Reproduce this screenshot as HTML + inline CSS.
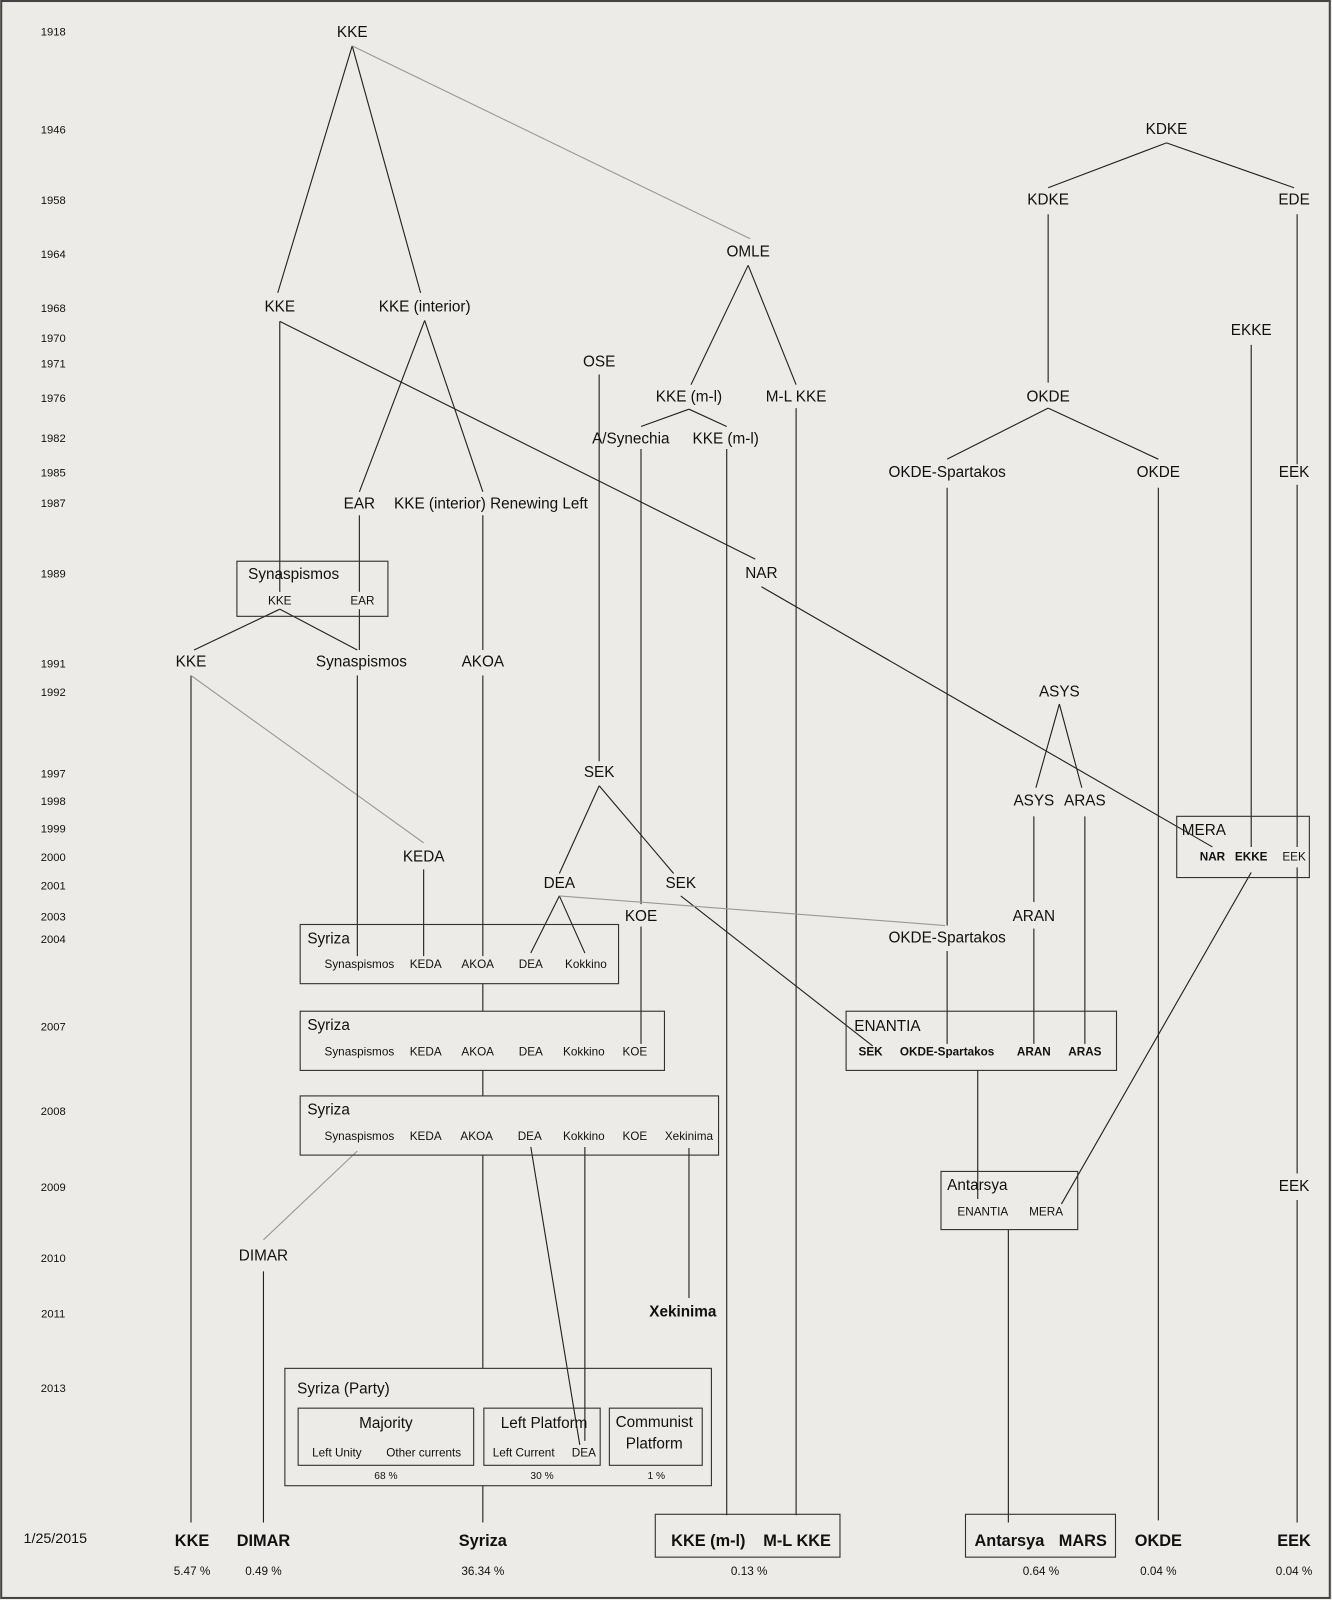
<!DOCTYPE html>
<html><head><meta charset="utf-8"><style>
html,body{margin:0;padding:0;background:#ecebe8;}
svg{display:block}
text{font-family:"Liberation Sans",sans-serif;fill:#111;dominant-baseline:central;text-anchor:middle}
.y{font-size:11px}
.m{font-size:15px}
.s{font-size:11.5px}
.b{font-weight:bold}
.l{text-anchor:start}
line{stroke:#222;stroke-width:1.1}
.g{stroke:#999}
rect{fill:none;stroke:#333;stroke-width:1.1}
</style></head><body>
<svg width="1332" height="1600" viewBox="0 0 1305 1568" xmlns="http://www.w3.org/2000/svg">
<rect x="1" y="1" width="1302" height="1565" style="stroke:#444;stroke-width:2"/>
<!-- years -->
<g class="y">
<text x="52" y="32" class="y">1918</text><text x="52" y="128" class="y">1946</text><text x="52" y="197" class="y">1958</text>
<text x="52" y="250" class="y">1964</text><text x="52" y="303" class="y">1968</text><text x="52" y="332" class="y">1970</text>
<text x="52" y="357" class="y">1971</text><text x="52" y="391" class="y">1976</text><text x="52" y="430" class="y">1982</text>
<text x="52" y="464" class="y">1985</text><text x="52" y="494" class="y">1987</text><text x="52" y="563" class="y">1989</text>
<text x="52" y="651" class="y">1991</text><text x="52" y="679" class="y">1992</text><text x="52" y="759" class="y">1997</text>
<text x="52" y="786" class="y">1998</text><text x="52" y="813" class="y">1999</text><text x="52" y="841" class="y">2000</text>
<text x="52" y="869" class="y">2001</text><text x="52" y="899" class="y">2003</text><text x="52" y="921" class="y">2004</text>
<text x="52" y="1007" class="y">2007</text><text x="52" y="1090" class="y">2008</text><text x="52" y="1164" class="y">2009</text>
<text x="52" y="1234" class="y">2010</text><text x="52" y="1288" class="y">2011</text><text x="52" y="1361" class="y">2013</text>
<text x="54" y="1508" style="font-size:14px">1/25/2015</text>
</g>
<!-- lines -->
<line x1="345" y1="45" x2="272" y2="287"/><line x1="345" y1="45" x2="412" y2="287"/>
<line class="g" x1="345" y1="45" x2="735" y2="234"/>
<line x1="1143" y1="140" x2="1027" y2="184"/><line x1="1143" y1="140" x2="1268" y2="184"/>
<line x1="1027" y1="210" x2="1027" y2="375"/>
<line x1="1271" y1="210" x2="1271" y2="455"/><line x1="1271" y1="475" x2="1271" y2="830"/>
<line x1="1271" y1="850" x2="1271" y2="1150"/><line x1="1271" y1="1176" x2="1271" y2="1492"/>
<line x1="1226" y1="338" x2="1226" y2="830"/>
<line x1="733" y1="260" x2="677" y2="377"/><line x1="733" y1="260" x2="780" y2="377"/>
<line x1="780" y1="400" x2="780" y2="1485"/>
<line x1="675" y1="401" x2="628" y2="418"/><line x1="675" y1="401" x2="712" y2="418"/>
<line x1="628" y1="440" x2="628" y2="886"/><line x1="628" y1="908" x2="628" y2="1023"/>
<line x1="712" y1="440" x2="712" y2="1485"/>
<line x1="587" y1="367" x2="587" y2="746"/>
<line x1="587" y1="770" x2="548" y2="856"/><line x1="587" y1="770" x2="660" y2="856"/>
<line x1="667" y1="878" x2="855" y2="1025"/>
<line x1="548" y1="878" x2="520" y2="934"/><line x1="548" y1="878" x2="573" y2="934"/>
<line class="g" x1="548" y1="878" x2="926" y2="907"/>
<line x1="274" y1="315" x2="274" y2="580"/>
<line x1="274" y1="315" x2="740" y2="548"/>
<line x1="746" y1="575" x2="1188" y2="830"/>
<line x1="416" y1="314" x2="352" y2="482"/><line x1="416" y1="314" x2="473" y2="482"/>
<line x1="352" y1="505" x2="352" y2="580"/><line x1="473" y1="505" x2="473" y2="637"/>
<line x1="274" y1="597" x2="190" y2="637"/><line x1="274" y1="597" x2="350" y2="637"/>
<line x1="352" y1="597" x2="352" y2="637"/>
<line x1="187" y1="662" x2="187" y2="1492"/>
<line class="g" x1="187" y1="662" x2="415" y2="826"/>
<line x1="415" y1="852" x2="415" y2="937"/>
<line x1="350" y1="662" x2="350" y2="937"/><line x1="473" y1="662" x2="473" y2="937"/>
<line x1="1038" y1="690" x2="1015" y2="772"/><line x1="1038" y1="690" x2="1060" y2="772"/>
<line x1="1013" y1="800" x2="1013" y2="884"/><line x1="1013" y1="910" x2="1013" y2="1023"/>
<line x1="1063" y1="800" x2="1063" y2="1023"/>
<line x1="1027" y1="400" x2="928" y2="450"/><line x1="1027" y1="400" x2="1135" y2="450"/>
<line x1="1135" y1="478" x2="1135" y2="1490"/>
<line x1="928" y1="478" x2="928" y2="907"/><line x1="928" y1="932" x2="928" y2="1023"/>
<line x1="1226" y1="855" x2="1040" y2="1180"/>
<line x1="473" y1="964" x2="473" y2="991"/><line x1="473" y1="1049" x2="473" y2="1074"/>
<line class="g" x1="350" y1="1128" x2="258" y2="1215"/>
<line x1="258" y1="1246" x2="258" y2="1492"/>
<line x1="473" y1="1132" x2="473" y2="1341"/>
<line x1="520" y1="1124" x2="568" y2="1416"/><line x1="573" y1="1124" x2="573" y2="1412"/>
<line x1="675" y1="1125" x2="675" y2="1272"/>
<line x1="958" y1="1049" x2="958" y2="1175"/>
<line x1="988" y1="1205" x2="988" y2="1492"/>
<line x1="473" y1="1456" x2="473" y2="1492"/>
<!-- boxes -->
<rect x="232" y="550" width="148" height="54"/>
<rect x="1153" y="800" width="130" height="60"/>
<rect x="294" y="906" width="312" height="58"/>
<rect x="294" y="991" width="357" height="58"/>
<rect x="294" y="1074" width="410" height="58"/>
<rect x="829" y="991" width="265" height="58"/>
<rect x="922" y="1148" width="134" height="57"/>
<rect x="279" y="1341" width="418" height="115"/>
<rect x="292" y="1380" width="172" height="56"/>
<rect x="474" y="1380" width="114" height="56"/>
<rect x="597" y="1380" width="91" height="56"/>
<rect x="642" y="1484" width="181" height="42"/>
<rect x="946" y="1484" width="147" height="42"/>
<!-- labels -->
<g class="m">
<text x="345" y="32" class="m">KKE</text><text x="1143" y="127" class="m">KDKE</text>
<text x="1027" y="196" class="m">KDKE</text><text x="1268" y="196" class="m">EDE</text>
<text x="733" y="247" class="m">OMLE</text>
<text x="274" y="301" class="m">KKE</text><text x="416" y="301" class="m">KKE (interior)</text>
<text x="1226" y="324" class="m">EKKE</text><text x="587" y="355" class="m">OSE</text>
<text x="675" y="389" class="m">KKE (m-l)</text><text x="780" y="389" class="m">M-L KKE</text>
<text x="1027" y="389" class="m">OKDE</text>
<text x="618" y="430" class="m">A/Synechia</text><text x="711" y="430" class="m">KKE (m-l)</text>
<text x="928" y="463" class="m">OKDE-Spartakos</text><text x="1135" y="463" class="m">OKDE</text><text x="1268" y="463" class="m">EEK</text>
<text x="352" y="494" class="m">EAR</text><text x="481" y="494" class="m">KKE (interior) Renewing Left</text>
<text x="746" y="562" class="m">NAR</text>
<text x="243" y="563" class="m l">Synaspismos</text>
<text x="187" y="649" class="m">KKE</text><text x="354" y="649" class="m">Synaspismos</text><text x="473" y="649" class="m">AKOA</text>
<text x="1038" y="678" class="m">ASYS</text>
<text x="587" y="757" class="m">SEK</text>
<text x="1013" y="785" class="m">ASYS</text><text x="1063" y="785" class="m">ARAS</text>
<text x="1158" y="814" class="m l">MERA</text>
<text x="415" y="840" class="m">KEDA</text>
<text x="548" y="866" class="m">DEA</text><text x="667" y="866" class="m">SEK</text>
<text x="628" y="898" class="m">KOE</text><text x="1013" y="898" class="m">ARAN</text>
<text x="928" y="919" class="m">OKDE-Spartakos</text>
<text x="301" y="920" class="m l">Syriza</text>
<text x="301" y="1005" class="m l">Syriza</text>
<text x="837" y="1006" class="m l">ENANTIA</text>
<text x="301" y="1088" class="m l">Syriza</text>
<text x="928" y="1162" class="m l">Antarsya</text>
<text x="1268" y="1163" class="m">EEK</text>
<text x="258" y="1231" class="m">DIMAR</text>
<text x="669" y="1286" class="m b">Xekinima</text>
<text x="291" y="1361" class="m l">Syriza (Party)</text>
<text x="378" y="1395" class="m">Majority</text><text x="533" y="1395" class="m">Left Platform</text>
<text x="641" y="1394" class="m">Communist</text><text x="641" y="1415" class="m">Platform</text>
</g>
<g class="b" style="font-size:16px">
<text x="188" y="1510">KKE</text><text x="258" y="1510">DIMAR</text><text x="473" y="1510">Syriza</text>
<text x="694" y="1510">KKE (m-l)</text><text x="781" y="1510">M-L KKE</text>
<text x="989" y="1510">Antarsya</text><text x="1061" y="1510">MARS</text>
<text x="1135" y="1510">OKDE</text><text x="1268" y="1510">EEK</text>
</g>
<g class="s">
<text x="274" y="589">KKE</text><text x="355" y="589">EAR</text>
<text x="1188" y="840" class="b">NAR</text><text x="1226" y="840" class="b">EKKE</text><text x="1268" y="840">EEK</text>
<text x="352" y="945">Synaspismos</text><text x="417" y="945">KEDA</text><text x="468" y="945">AKOA</text><text x="520" y="945">DEA</text><text x="574" y="945">Kokkino</text>
<text x="352" y="1031">Synaspismos</text><text x="417" y="1031">KEDA</text><text x="468" y="1031">AKOA</text><text x="520" y="1031">DEA</text><text x="572" y="1031">Kokkino</text><text x="622" y="1031">KOE</text>
<text x="352" y="1114">Synaspismos</text><text x="417" y="1114">KEDA</text><text x="467" y="1114">AKOA</text><text x="519" y="1114">DEA</text><text x="572" y="1114">Kokkino</text><text x="622" y="1114">KOE</text><text x="675" y="1114">Xekinima</text>
<text x="853" y="1031" class="b">SEK</text><text x="928" y="1031" class="b">OKDE-Spartakos</text><text x="1013" y="1031" class="b">ARAN</text><text x="1063" y="1031" class="b">ARAS</text>
<text x="963" y="1188">ENANTIA</text><text x="1025" y="1188">MERA</text>
<text x="330" y="1424">Left Unity</text><text x="415" y="1424">Other currents</text>
<text x="513" y="1424">Left Current</text><text x="572" y="1424">DEA</text>
<text x="378" y="1447" style="font-size:10px">68 %</text><text x="531" y="1447" style="font-size:10px">30 %</text><text x="643" y="1447" style="font-size:10px">1 %</text>
<text x="188" y="1540">5.47 %</text><text x="258" y="1540">0.49 %</text><text x="473" y="1540">36.34 %</text>
<text x="734" y="1540">0.13 %</text><text x="1020" y="1540">0.64 %</text><text x="1135" y="1540">0.04 %</text><text x="1268" y="1540">0.04 %</text>
</g>
</svg>
</body></html>
